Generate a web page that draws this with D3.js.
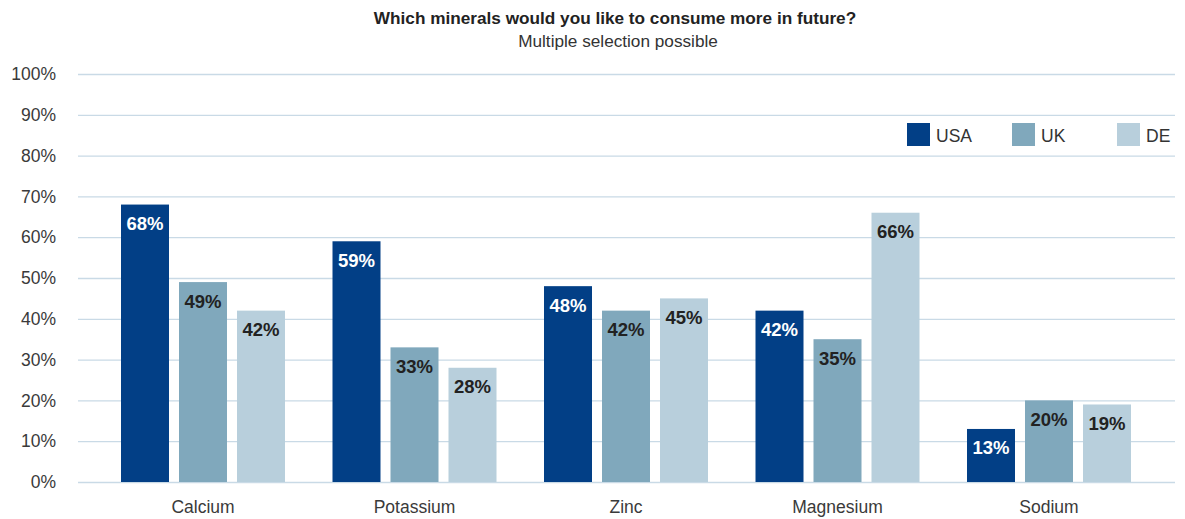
<!DOCTYPE html>
<html>
<head>
<meta charset="utf-8">
<script src="https://cdn.jsdelivr.net/npm/d3@7"></script>
<style>
  html, body { margin: 0; padding: 0; background: #fff; }
  svg { display: block; font-family: "Liberation Sans", Arial, Helvetica, sans-serif; }
</style>
</head>
<body>
<svg id="chart" width="1185" height="519"></svg>
<script>
// Survey: minerals people would like to consume more of, by country
const minerals = ["Calcium", "Potassium", "Zinc", "Magnesium", "Sodium"];
const countries = ["USA", "UK", "DE"];
const usaValues = [68, 59, 48, 42, 13];
const ukValues  = [49, 33, 42, 35, 20];
const deValues  = [42, 28, 45, 66, 19];
const yTicks = [0, 10, 20, 30, 40, 50, 60, 70, 80, 90, 100];
const titleText = "Which minerals would you like to consume more in future?";
const subtitleText = "Multiple selection possible";

const seriesValues = { USA: usaValues, UK: ukValues, DE: deValues };
const colors = { USA: "#023f86", UK: "#80a8bc", DE: "#b8cfdc" };
const labelColors = { USA: "#ffffff", UK: "#222222", DE: "#222222" };

const svg = d3.select("#chart");

const gridLeft = 78, gridRight = 1175;
const y = d3.scaleLinear().domain([0, 100]).range([482, 74]);
const x = d3.scaleBand().domain(minerals).range([97.25, 1154.75]).padding(0);
const xSub = d3.scaleBand().domain(countries).range([-82, 82]).paddingInner(10 / 58).paddingOuter(0);

// Title
svg.append("text")
  .attr("x", 615).attr("y", 24)
  .attr("text-anchor", "middle")
  .attr("font-size", "17.2px").attr("font-weight", "bold")
  .attr("fill", "#222")
  .text(titleText);
svg.append("text")
  .attr("x", 618).attr("y", 47)
  .attr("text-anchor", "middle")
  .attr("font-size", "17.2px")
  .attr("fill", "#333")
  .text(subtitleText);

// Gridlines and y axis labels
const yAxis = d3.axisLeft(y)
  .tickValues(yTicks)
  .tickSize(-(gridRight - gridLeft))
  .tickPadding(22)
  .tickFormat(d => d + "%");
const yg = svg.append("g")
  .attr("transform", `translate(${gridLeft},0)`)
  .call(yAxis);
yg.select(".domain").remove();
yg.selectAll(".tick line").attr("stroke", "#c9dae6").attr("stroke-width", 1.3);
yg.selectAll(".tick text")
  .attr("font-size", "17.5px").attr("fill", "#3a3a3a")
  .attr("font-family", "'Liberation Sans', Arial, sans-serif");

// Bars
const groups = svg.append("g").selectAll("g")
  .data(minerals)
  .join("g")
  .attr("transform", d => `translate(${x(d) + x.bandwidth() / 2},0)`);

const cells = groups.selectAll("g")
  .data((m, i) => countries.map(c => ({ country: c, value: seriesValues[c][i] })))
  .join("g");

cells.append("rect")
  .attr("x", d => xSub(d.country))
  .attr("width", xSub.bandwidth())
  .attr("y", d => y(d.value))
  .attr("height", d => y(0) - y(d.value))
  .attr("fill", d => colors[d.country]);

cells.append("text")
  .attr("x", d => xSub(d.country) + xSub.bandwidth() / 2)
  .attr("y", d => y(d.value) + 25.5)
  .attr("text-anchor", "middle")
  .attr("font-size", "18.5px").attr("font-weight", "bold")
  .attr("fill", d => labelColors[d.country])
  .text(d => d.value + "%");

// Category axis
const xAxis = d3.axisBottom(x).tickSize(0).tickPadding(0);
const xg = svg.append("g")
  .attr("transform", `translate(0,499)`)
  .call(xAxis);
xg.select(".domain").remove();
xg.selectAll(".tick text")
  .attr("font-size", "17.5px").attr("fill", "#3a3a3a")
  .attr("font-family", "'Liberation Sans', Arial, sans-serif")
  .attr("dy", "0.8em");

// Legend
const legendX = [907, 1012, 1117];
const legend = svg.append("g").selectAll("g")
  .data(countries)
  .join("g")
  .attr("transform", (d, i) => `translate(${legendX[i]},123)`);
legend.append("rect")
  .attr("width", 23).attr("height", 23)
  .attr("fill", d => colors[d]);
legend.append("text")
  .attr("x", 29).attr("y", 18.5)
  .attr("font-size", "17.5px").attr("fill", "#333")
  .text(d => d);
</script>
</body>
</html>
